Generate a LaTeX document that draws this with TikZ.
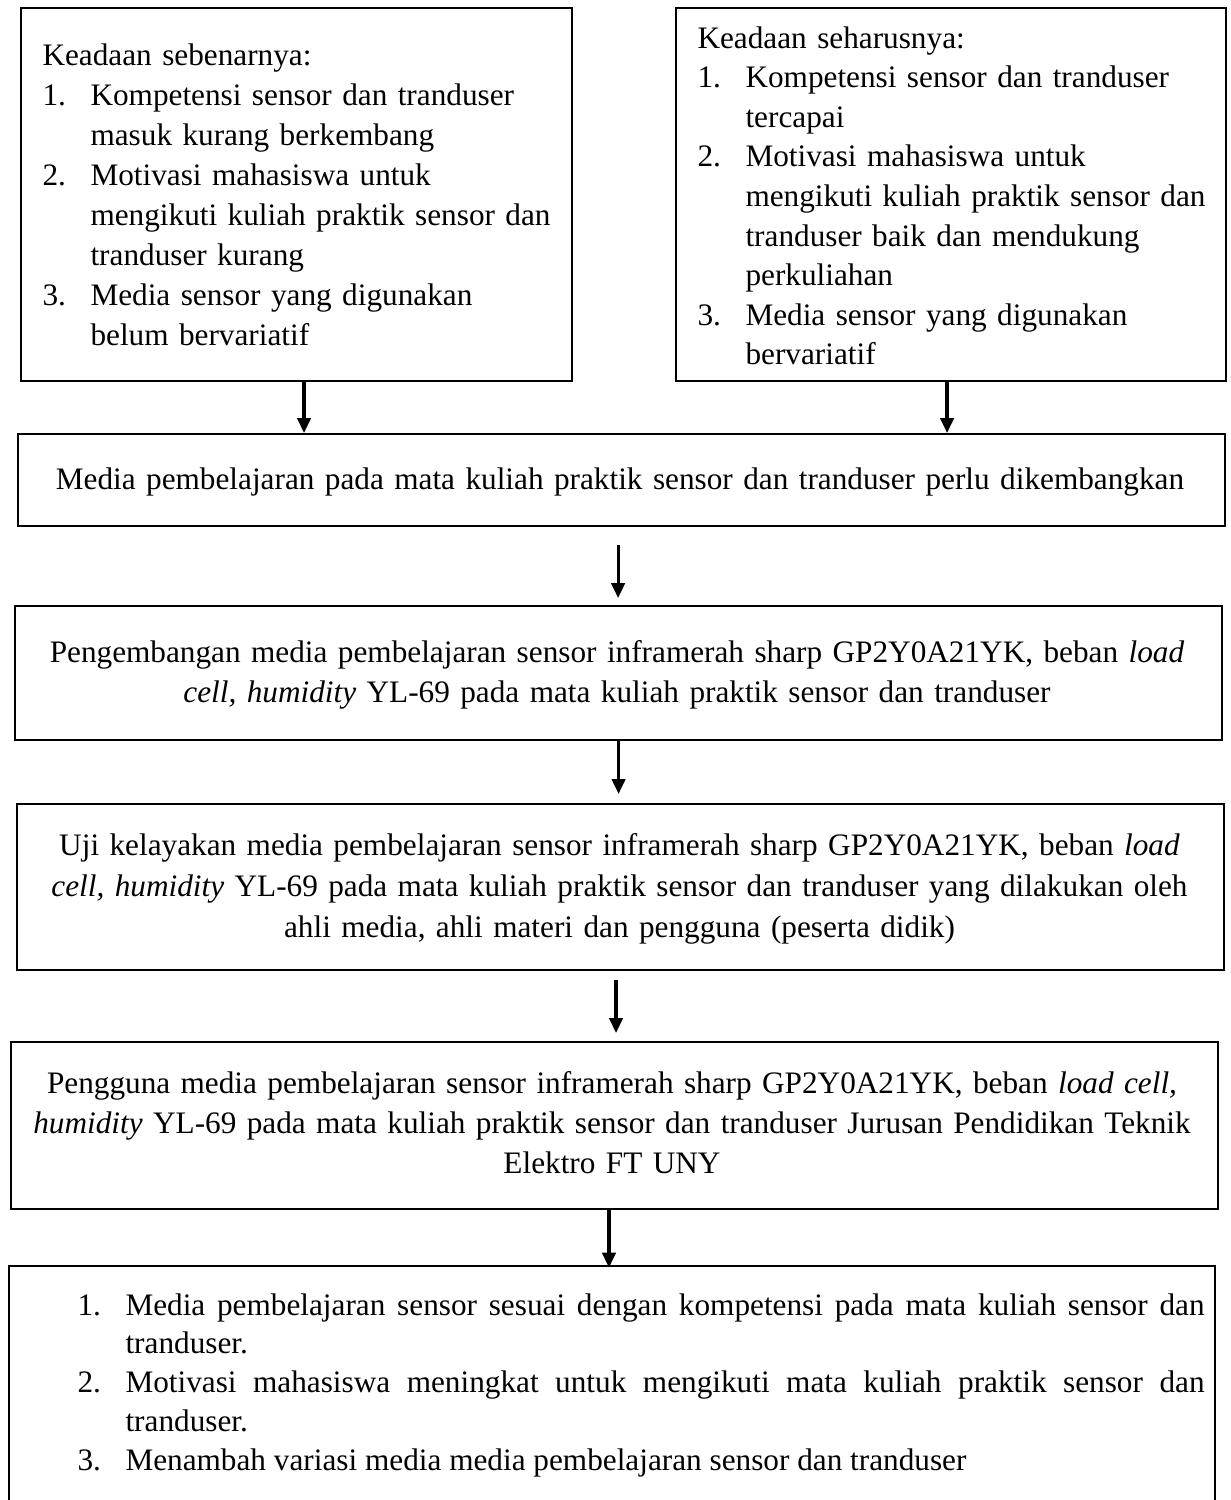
\documentclass[tikz,border=0pt]{standalone}
\usepackage{fontspec}
\setmainfont{Liberation Serif}
\usetikzlibrary{arrows.meta}
\tikzset{
  box/.style={draw, line width=0.8pt, inner sep=0pt, anchor=north west},
  txt/.style={inner sep=0pt, font=\fontsize{11.72}{15}\selectfont},
  arr/.style={line width=1.2pt, -{Triangle[width=5pt,length=5.6pt]}},
}
\newcommand{\itm}[1]{\makebox[18pt][l]{#1}}
\begin{document}
\begin{tikzpicture}[x=0.375pt,y=-0.375pt]
\useasboundingbox (0,0) rectangle (1230,1500);
% boxes
\node[box, minimum width={551*0.375pt}, minimum height={373*0.375pt}] (L) at (20,7) {};
\node[box, minimum width={550*0.375pt}, minimum height={373*0.375pt}] (R) at (675,7) {};
\node[box, minimum width={1207*0.375pt}, minimum height={92*0.375pt}] (M) at (17,433) {};
\node[box, minimum width={1207*0.375pt}, minimum height={134*0.375pt}] (P) at (14,605) {};
\node[box, minimum width={1207*0.375pt}, minimum height={166*0.375pt}] (U) at (16,803) {};
\node[box, minimum width={1207*0.375pt}, minimum height={167*0.375pt}] (G) at (10,1041) {};
\node[box, minimum width={1206*0.375pt}, minimum height={265*0.375pt}] (H) at (8,1265) {};
% texts
\node[txt, anchor=base west, text width={525*0.375pt}, align=left] (Lt) at (42,65) {%
Keadaan sebenarnya:\\
\itm{1.}Kompetensi sensor dan tranduser\\
\hspace*{18pt}masuk kurang berkembang\\
\itm{2.}Motivasi mahasiswa untuk\\
\hspace*{18pt}mengikuti kuliah praktik sensor dan\\
\hspace*{18pt}tranduser kurang\\
\itm{3.}Media sensor yang digunakan\\
\hspace*{18pt}belum bervariatif};
\node[txt, anchor=base west, text width={525*0.375pt}, align=left, font=\fontsize{11.72}{14.85}\selectfont] (Rt) at (697,48) {%
Keadaan seharusnya:\\
\itm{1.}Kompetensi sensor dan tranduser\\
\hspace*{18pt}tercapai\\
\itm{2.}Motivasi mahasiswa untuk\\
\hspace*{18pt}mengikuti kuliah praktik sensor dan\\
\hspace*{18pt}tranduser baik dan mendukung\\
\hspace*{18pt}perkuliahan\\
\itm{3.}Media sensor yang digunakan\\
\hspace*{18pt}bervariatif};
\node[txt, anchor=base, text width={1200*0.375pt}, align=center] (Mt) at (620,489) {%
Media pembelajaran pada mata kuliah praktik sensor dan tranduser perlu dikembangkan};
\node[txt, anchor=base, text width={1200*0.375pt}, align=center] (Pt) at (617,662) {%
Pengembangan media pembelajaran sensor inframerah sharp GP2Y0A21YK, beban \textit{load}\\
\textit{cell, humidity} YL-69 pada mata kuliah praktik sensor dan tranduser};
\node[txt, anchor=base, text width={1200*0.375pt}, align=center, font=\fontsize{11.72}{15.4}\selectfont] (Ut) at (619.5,855) {%
Uji kelayakan media pembelajaran sensor inframerah sharp GP2Y0A21YK, beban \textit{load}\\
\textit{cell, humidity} YL-69 pada mata kuliah praktik sensor dan tranduser yang dilakukan oleh\\
ahli media, ahli materi dan pengguna (peserta didik)};
\node[txt, anchor=base, text width={1200*0.375pt}, align=center] (Gt) at (612,1093) {%
Pengguna media pembelajaran sensor inframerah sharp GP2Y0A21YK, beban \textit{load cell,}\\
\textit{humidity} YL-69 pada mata kuliah praktik sensor dan tranduser Jurusan Pendidikan Teknik\\
Elektro FT UNY};
\node[txt, anchor=base west, text width={1127*0.375pt}, align=justify, font=\fontsize{11.72}{14.6}\selectfont] (Ht) at (77,1315) {%
\hangindent=18pt\hangafter=1\noindent\itm{1.}Media pembelajaran sensor sesuai dengan kompetensi pada mata kuliah sensor dan\linebreak tranduser.\par
\hangindent=18pt\hangafter=1\noindent\itm{2.}Motivasi mahasiswa meningkat untuk mengikuti mata kuliah praktik sensor dan\linebreak tranduser.\par
\hangindent=18pt\hangafter=1\noindent\itm{3.}Menambah variasi media media pembelajaran sensor dan tranduser\par};
% arrows
\draw[arr] ([xshift=2.8pt]L.south) -- ([xshift=2.8pt]L.south |- M.north);
\draw[arr] ([xshift=-1.5pt]R.south) -- ([xshift=-1.5pt]R.south |- M.north);
\draw[arr, shorten <=6.75pt, shorten >=2.6pt] ([xshift=-1.3pt]M.south) -- ([xshift=-1.3pt]M.south |- P.north);
\draw[arr, shorten >=3.4pt] (P.south) -- (P.south |- U.north);
\draw[arr, shorten <=3.4pt, shorten >=3pt] ([xshift=-1.7pt]U.south) -- ([xshift=-1.7pt]U.south |- G.north);
\draw[arr, shorten >=-1pt] ([xshift=-2.1pt]G.south) -- ([xshift=-2.1pt]G.south |- H.north);
\end{tikzpicture}
\end{document}
